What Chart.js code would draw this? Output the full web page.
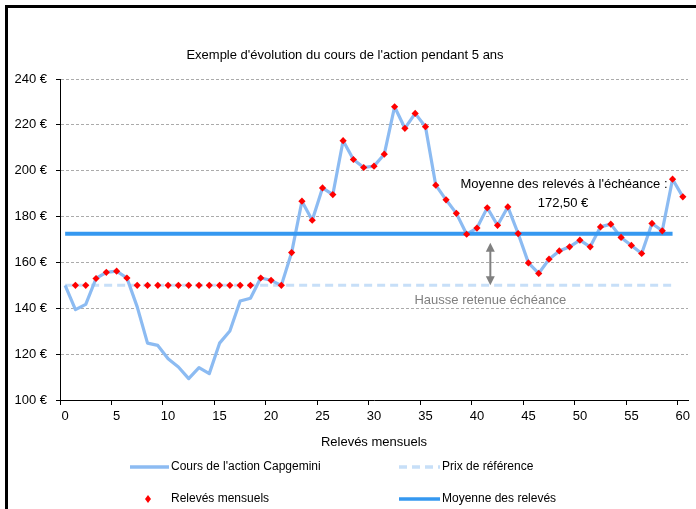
<!DOCTYPE html>
<html><head><meta charset="utf-8">
<script src="https://cdn.jsdelivr.net/npm/chart.js@4/dist/chart.umd.min.js"></script>
<style>
html,body{margin:0;padding:0;background:#fff;}
#wrap{position:relative;width:696px;height:509px;overflow:hidden;}
#frame{position:absolute;left:5px;top:5px;width:700px;height:520px;border-top:3px solid #000;border-left:3px solid #000;pointer-events:none;}
canvas{display:block;}
</style>
</head><body>
<div id="wrap"><canvas id="c" width="696" height="509"></canvas><div id="frame"></div></div>
<script>
// ---- data ----
const coursAction = [150, 139.4, 141.7, 153, 155.7, 156.2, 153.2, 140.6, 124.8, 123.8,
  118, 114.4, 109.3, 114.1, 111.5, 124.8, 130.1, 143.2, 144.4, 153.2,
  152.2, 150, 164.3, 186.7, 178.4, 192.5, 189.6, 213.1, 204.9, 201.4,
  202, 207.2, 227.9, 218.5, 225, 219.2, 193.7, 187.3, 181.4, 172.3,
  175, 183.8, 176.2, 184.2, 172.6, 159.8, 155.2, 161.4, 165, 166.8,
  169.7, 166.8, 175.5, 176.7, 170.9, 167.4, 163.9, 177, 173.8, 196.3, 188.6];
const relevesMensuels = [null, 150, 150, 153, 155.7, 156.2, 153.2, 150, 150, 150,
  150, 150, 150, 150, 150, 150, 150, 150, 150, 153.2,
  152.2, 150, 164.3, 186.7, 178.4, 192.5, 189.6, 213.1, 204.9, 201.4,
  202, 207.2, 227.9, 218.5, 225, 219.2, 193.7, 187.3, 181.4, 172.3,
  175, 183.8, 176.2, 184.2, 172.6, 159.8, 155.2, 161.4, 165, 166.8,
  169.7, 166.8, 175.5, 176.7, 170.9, 167.4, 163.9, 177, 173.8, 196.3, 188.6];
const prixReference = [150,150,150,150,150,150,150,150,150,150,150,150,150,150,150,150,150,150,150,150,
  150,150,150,150,150,150,150,150,150,150,150,150,150,150,150,150,150,150,150,150,
  150,150,150,150,150,150,150,150,150,150,150,150,150,150,150,150,150,150,150,150];
const moyenneReleves = [172.5,172.5,172.5,172.5,172.5,172.5,172.5,172.5,172.5,172.5,172.5,172.5,172.5,172.5,172.5,172.5,172.5,172.5,172.5,172.5,
  172.5,172.5,172.5,172.5,172.5,172.5,172.5,172.5,172.5,172.5,172.5,172.5,172.5,172.5,172.5,172.5,172.5,172.5,172.5,172.5,
  172.5,172.5,172.5,172.5,172.5,172.5,172.5,172.5,172.5,172.5,172.5,172.5,172.5,172.5,172.5,172.5,172.5,172.5,172.5,172.5];
const xTickLabels = [0, 5, 10, 15, 20, 25, 30, 35, 40, 45, 50, 55, 60];
const yTickValues = [100, 120, 140, 160, 180, 200, 220, 240];
const titre = "Exemple d'évolution du cours de l'action pendant 5 ans";
const titreX = "Relevés mensuels";
const noms = ["Cours de l'action Capgemini", "Prix de référence", "Relevés mensuels", "Moyenne des relevés"];
const annotMoyenne = "Moyenne des relevés à l'échéance :";
const annotHausse = "Hausse retenue échéance";
const annotX = 41.3;

const toXY = arr => arr.map((v, i) => ({x: i, y: v}));
const FONT = '"Liberation Sans", Arial, sans-serif';
const C_PRICE = '#8CBBF2', C_REF = '#C7DFF8', C_MEAN = '#3598F0', C_RED = '#FF0000';

const overlay = {
  id: 'overlay',
  afterDraw(chart) {
    const ctx = chart.ctx, xs = chart.scales.x, ys = chart.scales.y;
    ctx.save();
    ctx.fillStyle = '#000';
    ctx.textBaseline = 'middle';
    ctx.textAlign = 'center';
    ctx.font = '13px ' + FONT;
    ctx.fillText(titre, 345, 55);
    ctx.fillText(titreX, (chart.chartArea.left + chart.chartArea.right) / 2, 442);
    // annotation moyenne
    const xm = xs.getPixelForValue(annotX);
    ctx.fillText(annotMoyenne, 564, 184);
    ctx.fillText(moyenneReleves[0].toFixed(2).replace('.', ',') + ' €', 563, 203);
    ctx.fillStyle = '#808080';
    ctx.fillText(annotHausse, xm, 300);
    // double arrow
    const yTop = ys.getPixelForValue(moyenneReleves[0]) + 9;
    const yBot = ys.getPixelForValue(prixReference[0]);
    ctx.strokeStyle = '#808080'; ctx.lineWidth = 2;
    ctx.beginPath(); ctx.moveTo(xm, yTop + 6); ctx.lineTo(xm, yBot - 6); ctx.stroke();
    ctx.beginPath(); ctx.moveTo(xm, yTop); ctx.lineTo(xm - 4.5, yTop + 9); ctx.lineTo(xm + 4.5, yTop + 9); ctx.closePath(); ctx.fill();
    ctx.beginPath(); ctx.moveTo(xm, yBot); ctx.lineTo(xm - 4.5, yBot - 9); ctx.lineTo(xm + 4.5, yBot - 9); ctx.closePath(); ctx.fill();
    // legend
    ctx.textAlign = 'left';
    ctx.fillStyle = '#000';
    ctx.font = '12px ' + FONT;
    const r1 = 467, r2 = 499;
    ctx.lineWidth = 3.5; ctx.strokeStyle = C_PRICE; ctx.setLineDash([]);
    ctx.beginPath(); ctx.moveTo(130, r1); ctx.lineTo(169, r1); ctx.stroke();
    ctx.fillText(noms[0], 171, r1);
    ctx.strokeStyle = C_REF; ctx.setLineDash([8, 5]);
    ctx.beginPath(); ctx.moveTo(399, r1); ctx.lineTo(440, r1); ctx.stroke();
    ctx.setLineDash([]);
    ctx.fillText(noms[1], 442, r1);
    ctx.fillStyle = C_RED;
    ctx.beginPath(); ctx.moveTo(148, r2 - 4); ctx.lineTo(151, r2); ctx.lineTo(148, r2 + 4); ctx.lineTo(145, r2); ctx.closePath(); ctx.fill();
    ctx.fillStyle = '#000';
    ctx.fillText(noms[2], 171, r2);
    ctx.strokeStyle = C_MEAN; ctx.lineWidth = 3.5;
    ctx.beginPath(); ctx.moveTo(399, r2); ctx.lineTo(440, r2); ctx.stroke();
    ctx.fillText(noms[3], 442, r2);
    ctx.restore();
  }
};

new Chart(document.getElementById('c'), {
  type: 'line',
  data: {
    datasets: [
      {label: noms[2], data: toXY(relevesMensuels), showLine: false, pointStyle: 'rectRot',
       pointRadius: 3.6, pointBackgroundColor: C_RED, pointBorderWidth: 0, borderColor: C_RED, order: 0},
      {label: noms[3], data: toXY(moyenneReleves), borderColor: C_MEAN, borderWidth: 4, pointRadius: 0, order: 1},
      {label: noms[0], data: toXY(coursAction), borderColor: C_PRICE, borderWidth: 3.2, pointRadius: 0, order: 2},
      {label: noms[1], data: toXY(prixReference), borderColor: C_REF, borderWidth: 3, borderDash: [8, 5], pointRadius: 0, order: 3}
    ]
  },
  options: {
    responsive: false, animation: false, devicePixelRatio: 1,
    layout: {padding: {top: 79, right: 8, left: 0, bottom: 0}},
    plugins: {legend: {display: false}, title: {display: false}, tooltip: {enabled: false}},
    elements: {line: {tension: 0, borderCapStyle: 'butt', borderJoinStyle: 'round'}},
    scales: {
      x: {
        type: 'linear', min: -0.5, max: 60.5,
        afterBuildTicks: s => { s.ticks = xTickLabels.map(v => ({value: v - 0.5})); },
        afterFit: s => { s.height = 109; },
        ticks: {autoSkip: false, maxRotation: 0, padding: 4, labelOffset: 5.15, color: '#000',
                font: {family: FONT, size: 13}, callback: v => String(Math.round(v + 0.5))},
        grid: {drawOnChartArea: false, drawTicks: true, tickLength: 5, color: '#000', tickColor: '#000'},
        border: {display: true, color: '#000', width: 1}
      },
      y: {
        type: 'linear', min: 100, max: 240,
        afterBuildTicks: s => { s.ticks = yTickValues.map(v => ({value: v})); },
        afterFit: s => { s.width = 60; },
        ticks: {padding: 9, color: '#000', font: {family: FONT, size: 13}, callback: v => v + ' €'},
        grid: {color: '#ABABAB', lineWidth: 1, tickColor: '#000', tickLength: 4, tickBorderDash: [], drawTicks: true},
        border: {display: true, color: '#000', width: 1, dash: [3, 2]}
      }
    }
  },
  plugins: [overlay]
});
</script>
</body></html>
